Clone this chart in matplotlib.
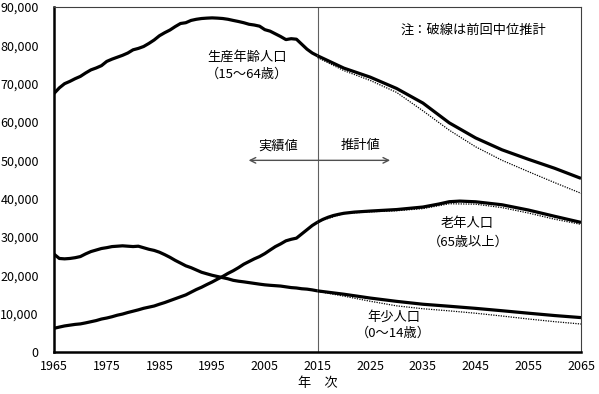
import matplotlib
matplotlib.use("Agg")
import matplotlib.pyplot as plt
from matplotlib.ticker import FuncFormatter

plt.rcParams['font.family'] = ['Noto Sans CJK JP', 'DejaVu Sans']

# 実績値 (千人)
years_act = list(range(1965, 2016))
working_act = [67444, 68900, 70000, 70600, 71300, 71900, 72800, 73600, 74100, 74700,
               75807, 76400, 76900, 77400, 78000, 78835, 79200, 79700, 80500, 81400,
               82506, 83300, 84000, 84900, 85700, 85904, 86500, 86800, 87000, 87100,
               87165, 87100, 87000, 86800, 86500, 86220, 85900, 85500, 85300, 85000,
               84092, 83700, 83000, 82300, 81500, 81735, 81600, 80300, 79000, 78000,
               77282]
child_act = [25529, 24400, 24300, 24400, 24600, 24900, 25600, 26200, 26600, 27000,
             27221, 27500, 27600, 27700, 27600, 27507, 27600, 27200, 26800, 26500,
             26033, 25400, 24700, 23900, 23200, 22486, 22000, 21400, 20800, 20400,
             20014, 19700, 19400, 19100, 18700, 18472, 18300, 18100, 17900, 17700,
             17521, 17400, 17300, 17200, 17000, 16803, 16700, 16500, 16400, 16200,
             15945]
elder_act = [6181, 6500, 6800, 7000, 7200, 7331, 7600, 7900, 8200, 8600,
             8865, 9200, 9600, 9900, 10300, 10647, 11000, 11400, 11700, 12000,
             12468, 12900, 13400, 13900, 14400, 14895, 15600, 16300, 16900, 17600,
             18261, 19000, 19700, 20500, 21200, 22005, 22900, 23600, 24300, 24900,
             25672, 26600, 27500, 28200, 29000, 29400, 29700, 30800, 31900, 33000,
             33868]

# 推計値 (今回・前回中位推計)
years_proj = [2015, 2020, 2025, 2030, 2035, 2040, 2045, 2050, 2055, 2060, 2065]
working_proj = [77282, 74058, 71701, 68754, 64942, 59777, 55845, 52750, 50276, 47928, 45291]
child_proj = [15945, 15075, 14073, 13212, 12457, 11936, 11384, 10767, 10123, 9508, 8975]
working_prev = [76818, 73408, 70845, 67730, 62919, 57866, 53531, 50013, 47063, 44183, 41400]
child_prev = [15827, 14568, 13240, 12039, 11287, 10732, 10116, 9387, 8614, 7912, 7300]
elder_prev = [33952, 36124, 36573, 36849, 37407, 38678, 38564, 37676, 36257, 34642, 33300]

years_elder_proj = [2015, 2016, 2017, 2018, 2019, 2020, 2022, 2025, 2030, 2035, 2038,
                    2040, 2042, 2045, 2050, 2055, 2060, 2065]
elder_proj = [33868, 34590, 35150, 35600, 35920, 36190, 36500, 36770, 37160, 37820, 38600,
              39210, 39370, 39190, 38410, 37040, 35400, 33810]

fig = plt.figure(figsize=(5.99, 3.94), dpi=100)
ax = fig.add_axes([0.0902, 0.1066, 0.8798, 0.8756])

solid = dict(color='black', lw=2.3, solid_capstyle='butt', zorder=3)
dotted = dict(color='black', lw=0.9, linestyle=(0, (1, 1)), zorder=2)

ax.plot(years_act, working_act, **solid)
ax.plot(years_act, child_act, **solid)
ax.plot(years_act, elder_act, **solid)
ax.plot(years_proj, working_proj, **solid)
ax.plot(years_proj, child_proj, **solid)
ax.plot(years_elder_proj, elder_proj, **solid)
ax.plot(years_proj, working_prev, **dotted)
ax.plot(years_proj, child_prev, **dotted)
ax.plot(years_proj, elder_prev, **dotted)

ax.axvline(2015, color='#606060', lw=0.8, zorder=1)

ax.set_xlim(1965, 2065)
ax.set_ylim(0, 90000)
ax.set_xticks(range(1965, 2066, 10))
ax.set_yticks(range(0, 90001, 10000))
ax.yaxis.set_major_formatter(FuncFormatter(lambda v, p: f"{int(v):,}"))
ax.tick_params(length=0, labelsize=9, pad=6)
ax.tick_params(axis='y', pad=11)

for s in ['left', 'bottom']:
    ax.spines[s].set_linewidth(1.8)
for s in ['top', 'right']:
    ax.spines[s].set_linewidth(0.8)
    ax.spines[s].set_color('#404040')

fs = 9.5
ax.text(2001.6, 76800, '生産年齢人口', ha='center', va='center', fontsize=fs)
ax.text(2001.6, 72400, '（15～64歳）', ha='center', va='center', fontsize=fs)
ax.text(2007.5, 53800, '実績値', ha='center', va='center', fontsize=fs)
ax.text(2023.1, 53800, '推計値', ha='center', va='center', fontsize=fs)
ax.annotate('', xy=(2001.4, 50000), xytext=(2029.3, 50000),
            arrowprops=dict(arrowstyle='<->', color='#505050', lw=1.0))
ax.text(2044.5, 83900, '注：破線は前回中位推計', ha='center', va='center', fontsize=fs)
ax.text(2043.4, 33400, '老年人口', ha='center', va='center', fontsize=fs)
ax.text(2043.6, 28700, '（65歳以上）', ha='center', va='center', fontsize=fs)
ax.text(2029.5, 9150, '年少人口', ha='center', va='center', fontsize=fs)
ax.text(2029.3, 5000, '（0～14歳）', ha='center', va='center', fontsize=fs)
ax.set_xlabel('年　次', fontsize=fs, labelpad=3)

fig.savefig('out.png', dpi=100)
